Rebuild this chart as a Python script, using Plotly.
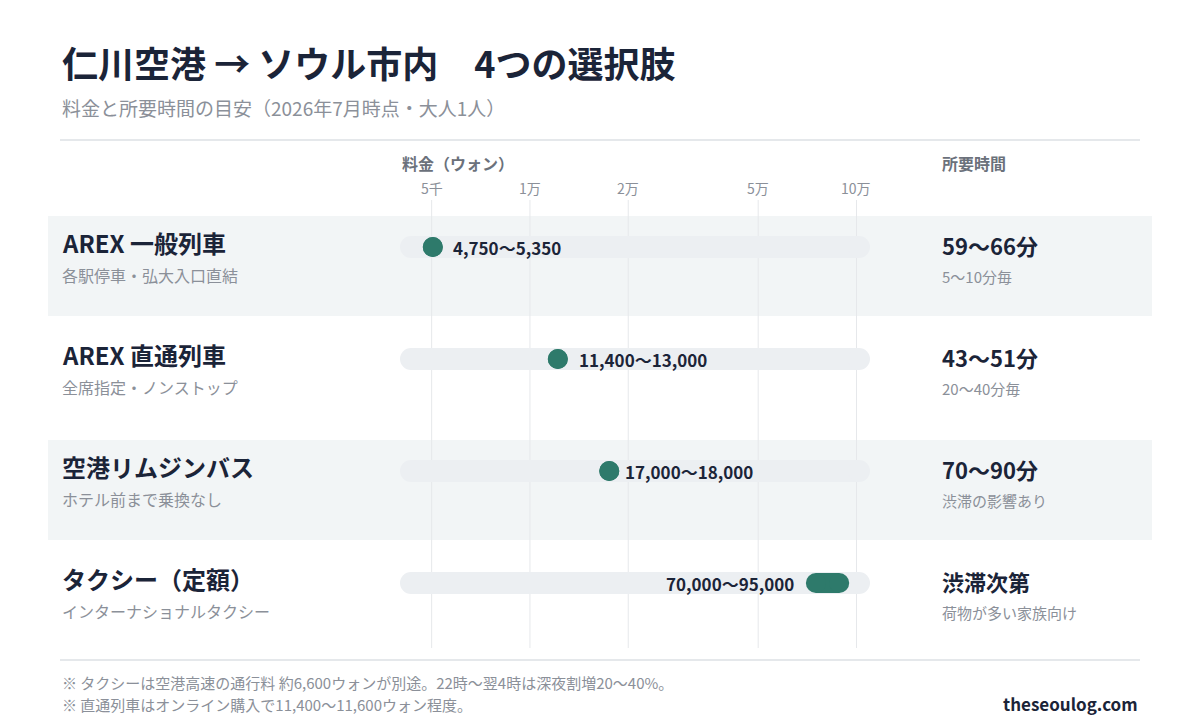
import numpy as np
import plotly.graph_objects as go

routes = ["AREX 一般列車", "AREX 直通列車", "空港リムジンバス", "タクシー（定額）"]
route_notes = ["各駅停車・弘大入口直結", "全席指定・ノンストップ", "ホテル前まで乗換なし", "インターナショナルタクシー"]
fare_low = [4750, 11400, 17000, 70000]
fare_high = [5350, 13000, 18000, 95000]
fare_labels = ["4,750〜5,350", "11,400〜13,000", "17,000〜18,000", "70,000〜95,000"]
times = ["59〜66分", "43〜51分", "70〜90分", "渋滞次第"]
time_notes = ["5〜10分毎", "20〜40分毎", "渋滞の影響あり", "荷物が多い家族向け"]
tick_vals = [5000, 10000, 20000, 50000, 100000]
tick_text = ["5千", "1万", "2万", "5万", "10万"]

FONT = "Noto Sans CJK JP"
DARK = "#1b2438"
GRAY = "#8b9099"
GREEN = "#2e7a6b"
TRACK = "#eceff2"
ROWBG = "#f2f5f6"
W, H = 1200, 720
OFF = 8  # page body margin offset
XMIN, XMAX = 4000, 110000
PPD = 470 / (np.log10(XMAX) - np.log10(XMIN))  # pixels per decade

row_y = [247, 359, 471, 583]

fig = go.Figure()
shapes = []
ann = []

def pa(x, y, text, size, color=DARK, bold=False, xanchor="left", xref="paper"):
    ann.append(dict(x=(x - OFF) / W if xref == "paper" else x, y=y, xref=xref, yref="y",
                    text=f"<b>{text}</b>" if bold else text, showarrow=False,
                    xanchor=xanchor, yanchor="middle",
                    font=dict(family=FONT, size=size, color=color)))

def pill(lo, hi, y, color, width):
    r = width / 2
    f = 10 ** (r / PPD)
    a, b = lo * f, hi / f
    if a >= b:
        m = np.sqrt(lo * hi)
        a = b = m
    fig.add_trace(go.Scatter(x=[a, b], y=[y, y], mode="lines+markers",
                             line=dict(color=color, width=width),
                             marker=dict(size=width, color=color, line=dict(width=0)),
                             hoverinfo="skip", cliponaxis=False))

for i, y in enumerate(row_y):
    if i % 2 == 0:
        shapes.append(dict(type="rect", xref="paper", yref="y", x0=(48 - OFF) / W, x1=(1152 - OFF) / W,
                           y0=y - 31, y1=y + 69, fillcolor=ROWBG, line_width=0, layer="below"))
for yy in [140, 660]:
    shapes.append(dict(type="line", xref="paper", yref="y", x0=(60 - OFF) / W, x1=(1140 - OFF) / W,
                       y0=yy, y1=yy, line=dict(color="#dde0e4", width=1.5)))

for v, t in zip(tick_vals, tick_text):
    fig.add_trace(go.Scatter(x=[v, v], y=[200, 648], mode="lines",
                             line=dict(color="#e6e8eb", width=1), hoverinfo="skip"))
    pa(np.log10(v), 188, t, 14, GRAY, xanchor="center", xref="x")

for i, y in enumerate(row_y):
    pill(XMIN, XMAX, y, TRACK, 22)
    pill(fare_low[i], fare_high[i], y, GREEN, 20)
    if i == 3:
        ann.append(dict(x=np.log10(fare_low[i]), y=y, xref="x", yref="y", text=f"<b>{fare_labels[i]}</b>",
                        showarrow=False, xanchor="right", xshift=-10,
                        font=dict(family=FONT, size=17, color=DARK)))
    else:
        ann.append(dict(x=np.log10(fare_high[i]), y=y, xref="x", yref="y", text=f"<b>{fare_labels[i]}</b>",
                        showarrow=False, xanchor="left", xshift=10,
                        font=dict(family=FONT, size=17, color=DARK)))
    pa(60, y - 5, routes[i], 24, DARK, bold=True)
    pa(60, y + 28, route_notes[i], 16, GRAY)
    pa(940, y - 2, times[i], 22, DARK, bold=True)
    pa(940, y + 29, time_notes[i], 15, GRAY)

pa(60, 62, "仁川空港 → ソウル市内　4つの選択肢", 36, DARK, bold=True)
pa(60, 107, "料金と所要時間の目安（2026年7月時点・大人1人）", 19, GRAY)
pa(400, 163, "料金（ウォン）", 16, "#6b717b", bold=True)
pa(940, 163, "所要時間", 16, "#6b717b", bold=True)
pa(60, 682, "※ タクシーは空港高速の通行料 約6,600ウォンが別途。22時〜翌4時は深夜割増20〜40%。", 15, GRAY)
pa(60, 704, "※ 直通列車はオンライン購入で11,400〜11,600ウォン程度。", 15, GRAY)
pa(1140, 703, "theseoulog.com", 17, DARK, bold=True, xanchor="right")

fig.update_layout(
    width=W, height=H, margin=dict(l=0, r=0, t=0, b=0),
    paper_bgcolor="white", plot_bgcolor="rgba(0,0,0,0)", showlegend=False,
    xaxis=dict(type="log", domain=[(400 - OFF) / W, (870 - OFF) / W],
               range=[np.log10(XMIN), np.log10(XMAX)], visible=False, fixedrange=True),
    yaxis=dict(range=[H + OFF, OFF], domain=[0, 1], visible=False, fixedrange=True),
    shapes=shapes, annotations=ann,
)
fig.write_html("out.html")
